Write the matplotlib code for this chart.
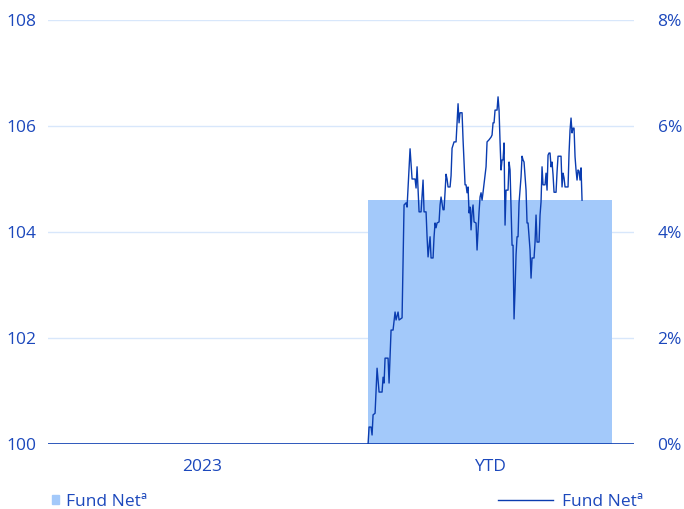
import matplotlib
matplotlib.use("Agg")
import matplotlib.pyplot as plt
from matplotlib.lines import Line2D
from matplotlib.patches import Patch

plt.rcParams['font.family'] = ['Open Sans', 'DejaVu Sans']

categories = ["2023", "YTD"]
bar_values = [0.0, 4.6]          # percent
left_ticks = [100, 102, 104, 106, 108]
right_ticks = [0, 2, 4, 6, 8]

# trading-day offsets within YTD and index values
line_days = [0, 1, 3, 4, 5, 7, 9, 11, 14, 15, 16, 17, 20, 21, 23, 25, 27, 28, 30, 31,
             34, 36, 38, 39, 42, 44, 47, 48, 49, 51, 53, 55, 56, 58, 59, 60, 62, 63, 65, 66,
             67, 68, 69, 71, 72, 73, 75, 76, 78, 79, 80, 82, 83, 84, 86, 88, 89, 90, 91, 92,
             94, 95, 97, 98, 99, 100, 101, 102, 103, 104, 105, 106, 108, 109, 111, 112, 113, 114, 115, 118,
             119, 121, 123, 124, 125, 126, 127, 129, 130, 131, 132, 133, 134, 135, 136, 137, 138, 140, 141, 142,
             144, 145, 146, 147, 148, 149, 150, 151, 153, 154, 155, 156, 158, 159, 160, 162, 163, 164, 166, 167,
             168, 169, 171, 172, 173, 174, 175, 177, 178, 179, 180, 181, 182, 183, 184, 185, 186, 188, 189,
             190, 193, 194, 195, 196, 197, 200, 201, 202, 203, 204, 205, 206, 207, 208, 209, 210, 211, 212, 213,
             214]
line_values = [100.00, 100.32, 100.32, 100.17, 100.55, 100.58, 101.43, 100.98, 100.98, 101.26,
               101.15, 101.62, 101.62, 101.15, 102.15, 102.15, 102.49, 102.34, 102.49, 102.34,
               102.38, 104.51, 104.55, 104.47, 105.57, 105.00, 105.00, 104.83, 105.23, 104.38,
               104.38, 104.98, 104.38, 104.38, 103.91, 103.53, 103.91, 103.51, 103.51, 103.91,
               104.17, 104.08, 104.17, 104.19, 104.51, 104.66, 104.42, 104.42, 105.09, 105.00,
               104.85, 104.85, 105.06, 105.58, 105.70, 105.70, 106.06, 106.42, 106.06, 106.25,
               106.25, 105.74, 104.89, 104.89, 104.74, 104.85, 104.36, 104.47, 104.04, 104.38,
               104.51, 104.19, 104.17, 103.66, 104.38, 104.66, 104.74, 104.60, 104.75, 105.23,
               105.70, 105.74, 105.79, 105.83, 106.06, 106.06, 106.30, 106.30, 106.55, 106.30,
               105.70, 105.17, 105.36, 105.36, 105.68, 104.13, 104.79, 104.79, 105.32, 105.17,
               103.75, 103.75, 102.36, 102.91, 103.57, 103.91, 103.91, 104.55, 105.04, 105.43,
               105.36, 105.32, 104.79, 104.17, 104.17, 103.66, 103.13, 103.51, 103.51, 103.81,
               104.32, 103.81, 103.81, 104.32, 104.57, 105.23, 104.89, 104.89, 105.11, 104.79,
               105.45, 105.49, 105.49, 105.23, 105.32, 105.08, 104.75, 104.75, 105.13, 105.43,
               105.43, 104.85, 105.11, 105.02, 104.85, 104.85, 105.49, 105.92, 106.15, 105.87,
               105.96, 105.96, 105.42, 105.17, 104.98, 105.17, 105.15, 104.98, 105.21, 104.60]

TEXT = "#1c48bc"
LINE = "#0a3cb0"
BAR = "#a3c9fa"
GRID = "#d8e7fb"

fig = plt.figure(figsize=(6.84, 5.09), dpi=100)
ax = fig.add_axes([48/684, 1-444/509, (634-48)/684, (444-20)/509])

bw = 0.847
ax.bar(range(len(categories)), bar_values, width=bw, color=BAR, zorder=1)
ax.set_ylim(0, 8)
ax.set_xlim(-0.535, 1.5)
ax.set_xticks(range(len(categories)))
ax.set_xticklabels(categories)
ax.set_yticks(right_ticks)
ax.set_yticklabels([f"{t}%" for t in right_ticks])
for t in right_ticks[1:]:
    ax.axhline(t, color=GRID, lw=1.0, zorder=0)
ax.axhline(0, color=LINE, lw=1.2, zorder=3)
for s in ax.spines.values():
    s.set_visible(False)

ax2 = ax.twinx()
x0 = 1 - bw / 2
px_per_unit = 288.0
ax2.plot([x0 + d / px_per_unit for d in line_days], line_values, color=LINE, lw=1.0, zorder=4)
ax2.set_ylim(100, 108)
ax2.set_yticks(left_ticks)
for s in ax2.spines.values():
    s.set_visible(False)

# percent axis on the right, index axis on the left
ax.yaxis.tick_right()
ax.yaxis.set_label_position("right")
ax2.yaxis.tick_left()
ax2.yaxis.set_label_position("left")
ax.tick_params(axis='both', length=0, colors=TEXT, labelsize=12.5)
ax.tick_params(axis='y', pad=17)
ax.tick_params(axis='x', pad=11)
ax2.tick_params(axis='y', length=0, colors=TEXT, labelsize=12.5, pad=8)

h1 = Patch(color=BAR)
leg1 = fig.legend([h1], ["Fund Netª"], loc="center left", bbox_to_anchor=(52/684, 1-502/509),
                  frameon=False, fontsize=12.5, labelcolor=TEXT, handlelength=0.4, handleheight=0.4,
                  handletextpad=0.4, borderpad=0, borderaxespad=0)
h2 = Line2D([0], [0], color=LINE, lw=1.0)
leg2 = fig.legend([h2], ["Fund Netª"], loc="center right", bbox_to_anchor=(643/684, 1-502/509),
                  frameon=False, fontsize=12.5, labelcolor=TEXT, handlelength=3.2,
                  handletextpad=0.5, borderpad=0, borderaxespad=0)

fig.savefig("out.png", dpi=100, facecolor="white")
